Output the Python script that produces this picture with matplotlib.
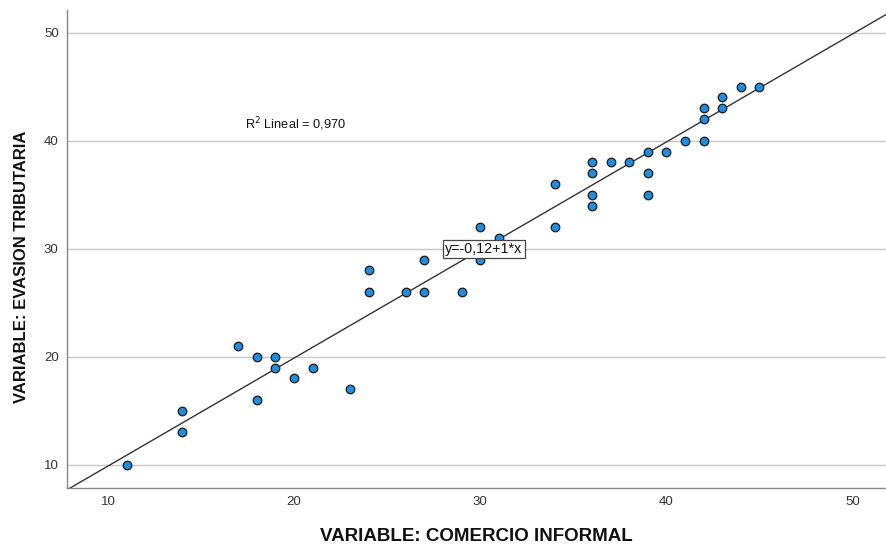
import matplotlib
matplotlib.use("Agg")
import matplotlib.pyplot as plt
import numpy as np
from matplotlib import font_manager

# Data
comercio_informal = [11, 14, 14, 17, 18, 18, 19, 19, 20, 21, 23, 24, 24, 26, 27, 27, 29,
                     30, 30, 31, 34, 34, 36, 36, 36, 36, 37, 38, 39, 39, 39, 40, 41,
                     42, 42, 42, 43, 43, 44, 45]
evasion_tributaria = [10, 15, 13, 21, 20, 16, 20, 19, 18, 19, 17, 28, 26, 26, 29, 26, 26,
                      32, 29, 31, 36, 32, 38, 37, 35, 34, 38, 38, 39, 37, 35, 39, 40,
                      43, 42, 40, 44, 43, 45, 45]
fit_intercept = -0.12
fit_slope = 1.0
r2_label = "R$^2$ Lineal = 0,970"
eq_label = "y=-0,12+1*x"
x_ticks = [10, 20, 30, 40, 50]
y_ticks = [10, 20, 30, 40, 50]
x_label = "VARIABLE: COMERCIO INFORMAL"
y_label = "VARIABLE: EVASION TRIBUTARIA"

names = {f.name for f in font_manager.fontManager.ttflist}
base = "Liberation Sans" if "Liberation Sans" in names else "DejaVu Sans"
narrow = "Liberation Sans Narrow" if "Liberation Sans Narrow" in names else base
plt.rcParams['font.family'] = [base, 'DejaVu Sans']

fig = plt.figure(figsize=(8.86, 5.48), dpi=100)
ax = fig.add_axes([67/886, 60/548, 1 - 67/886, 478/548])

xlim = (7.8, 51.8)
ylim = (7.85, 52.1)
ax.set_xlim(*xlim)
ax.set_ylim(*ylim)

ax.set_xticks(x_ticks)
ax.set_yticks(y_ticks)
ax.tick_params(length=0, labelsize=9.5, colors='#333333', pad=6)
ax.yaxis.grid(True, color='#c8c8c8', linewidth=1.0)
ax.set_axisbelow(True)
for s in ['top', 'right']:
    ax.spines[s].set_visible(False)
for s in ['left', 'bottom']:
    ax.spines[s].set_color('#888888')
    ax.spines[s].set_linewidth(1.0)

xs = np.array(xlim)
ax.plot(xs, fit_intercept + fit_slope * xs, color='#333333', linewidth=1.0, zorder=2)

ax.scatter(comercio_informal, evasion_tributaria, s=38, color='#1f8ee0',
           edgecolors='#1a1a1a', linewidths=0.9, zorder=3)

ax.text(20.05, 41.5, r2_label, fontsize=9.2, ha='center', va='center', color='#111111')
ax.text(30.2, 30.0, eq_label, fontsize=10.3, ha='center', va='center', color='#111111',
        bbox=dict(boxstyle='square,pad=0.15', facecolor='white', edgecolor='#444444',
                  linewidth=0.9), zorder=4)

ax.set_xlabel(x_label, fontsize=13.5, fontweight='bold', color='#111111', labelpad=14)
ax.set_ylabel(y_label, fontsize=12, fontweight='bold', color='#111111',
              family=[narrow, 'DejaVu Sans'])
ax.yaxis.set_label_coords(-0.0464, 0.462)

fig.savefig("out.png", dpi=100)
